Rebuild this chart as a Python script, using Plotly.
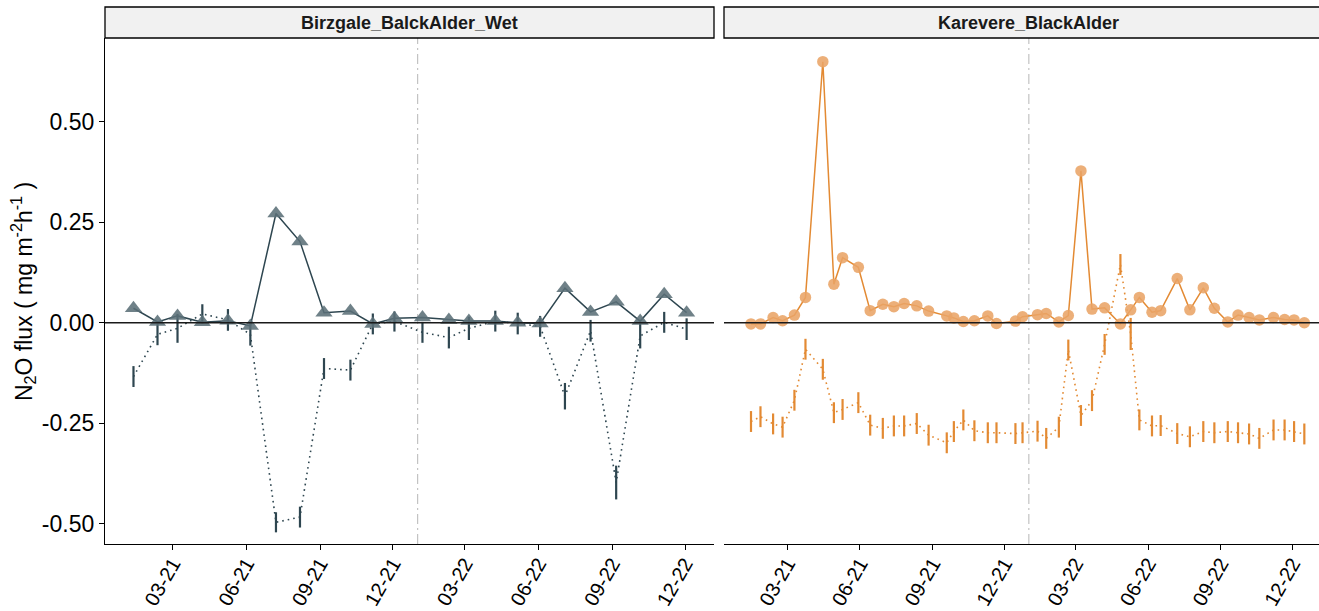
import plotly.graph_objects as go

W, H = 1319, 611

# ---- data -------------------------------------------------------------
site_names = ["Birzgale_BalckAlder_Wet", "Karevere_BlackAlder"]

birz_dates = ["2021-01-11", "2021-02-10", "2021-03-07", "2021-04-07", "2021-05-09", "2021-06-06",
              "2021-07-08", "2021-08-07", "2021-09-06", "2021-10-09", "2021-11-06", "2021-12-03",
              "2022-01-07", "2022-02-09", "2022-03-06", "2022-04-08", "2022-05-06", "2022-06-03",
              "2022-07-04", "2022-08-05", "2022-09-06", "2022-10-06", "2022-11-05", "2022-12-03"]
birz_flux = [0.036, 0.002, 0.017, 0.001, 0.005, -0.008, 0.272, 0.202, 0.025, 0.029, -0.003, 0.011,
             0.013, 0.007, 0.004, 0.004, 0.000, -0.002, 0.086, 0.027, 0.052, 0.004, 0.071, 0.025]
birz_low = [-0.134, -0.029, -0.014, 0.022, 0.007, -0.029, -0.497, -0.484, -0.114, -0.118, -0.003, 0.003,
            -0.024, -0.037, -0.014, 0.004, -0.002, -0.009, -0.183, -0.020, -0.398, -0.033, 0.001, -0.016]
birz_err = [0.026, 0.027, 0.036, 0.024, 0.027, 0.028, 0.025, 0.026, 0.026, 0.026, 0.026, 0.025,
            0.026, 0.027, 0.029, 0.026, 0.027, 0.026, 0.033, 0.027, 0.042, 0.031, 0.026, 0.027]

kare_dates = ["2021-01-14", "2021-01-26", "2021-02-11", "2021-02-23", "2021-03-10", "2021-03-24",
              "2021-04-15", "2021-04-29", "2021-05-10", "2021-05-30", "2021-06-14", "2021-06-30",
              "2021-07-14", "2021-07-27", "2021-08-12", "2021-08-27", "2021-09-19", "2021-09-28",
              "2021-10-10", "2021-10-24", "2021-11-10", "2021-11-21", "2021-12-15", "2021-12-24",
              "2022-01-12", "2022-01-23", "2022-02-08", "2022-02-20", "2022-03-08", "2022-03-22",
              "2022-04-07", "2022-04-27", "2022-05-10", "2022-05-21", "2022-06-06", "2022-06-17",
              "2022-07-08", "2022-07-24", "2022-08-10", "2022-08-24", "2022-09-10", "2022-09-23",
              "2022-10-07", "2022-10-20", "2022-11-07", "2022-11-21", "2022-12-03", "2022-12-16"]
kare_flux = [-0.003, -0.003, 0.013, 0.005, 0.019, 0.063, 0.650, 0.096, 0.162, 0.138, 0.030, 0.046,
             0.040, 0.048, 0.042, 0.029, 0.017, 0.012, 0.003, 0.005, 0.017, -0.002, 0.004, 0.015,
             0.020, 0.023, 0.002, 0.018, 0.378, 0.034, 0.037, -0.003, 0.032, 0.063, 0.026, 0.030,
             0.110, 0.032, 0.087, 0.036, 0.002, 0.019, 0.013, 0.007, 0.013, 0.008, 0.007, 0.000]
kare_low = [-0.246, -0.234, -0.252, -0.260, -0.193, -0.066, -0.116, -0.224, -0.216, -0.199, -0.255, -0.263,
            -0.257, -0.257, -0.251, -0.280, -0.299, -0.271, -0.242, -0.269, -0.274, -0.274, -0.276, -0.274,
            -0.270, -0.288, -0.260, -0.068, -0.231, -0.194, -0.054, 0.145, -0.028, -0.242, -0.257, -0.256,
            -0.276, -0.284, -0.271, -0.274, -0.271, -0.274, -0.277, -0.288, -0.267, -0.267, -0.271, -0.277]
kare_err = [0.026] * 31 + [0.026, 0.040] + [0.026] * 15

tick_dates = ["2021-03-01", "2021-06-01", "2021-09-01", "2021-12-01",
              "2022-03-01", "2022-06-01", "2022-09-01", "2022-12-01"]
tick_text = ["03-21", "06-21", "09-21", "12-21", "03-22", "06-22", "09-22", "12-22"]
y_ticks = [-0.5, -0.25, 0.0, 0.25, 0.5]
y_text = ["-0.50", "-0.25", "0.00", "0.25", "0.50"]
year_break = "2022-01-01"

# ---- styling ----------------------------------------------------------
slate_line = "#2e4650"
slate_mark = "#5b6f78"
orange_line = "#e38a33"
orange_mark = "#e9a466"
FONT = "Liberation Sans, Arial, sans-serif"

fig = go.Figure()

panels = [
    dict(xa="x", ya="y", dates=birz_dates, flux=birz_flux, low=birz_low, err=birz_err,
         line=slate_line, mark=slate_mark, symbol="triangle-up", msize=15),
    dict(xa="x2", ya="y2", dates=kare_dates, flux=kare_flux, low=kare_low, err=kare_err,
         line=orange_line, mark=orange_mark, symbol="circle", msize=11.5),
]

for p in panels:
    # lower series: dotted path with vertical ranges
    fig.add_trace(go.Scatter(
        x=p["dates"], y=p["low"], xaxis=p["xa"], yaxis=p["ya"], mode="lines",
        line=dict(color=p["line"], width=1.6, dash="1.6px,4px"),
        error_y=dict(type="data", array=p["err"], visible=True, width=0,
                     thickness=2.2, color=p["line"]),
        showlegend=False, hoverinfo="skip"))
    # flux series: solid line with markers
    fig.add_trace(go.Scatter(
        x=p["dates"], y=p["flux"], xaxis=p["xa"], yaxis=p["ya"], mode="lines+markers",
        line=dict(color=p["line"], width=1.5),
        marker=dict(symbol=p["symbol"], size=p["msize"], color=p["mark"], opacity=0.88,
                    line=dict(width=0)),
        showlegend=False))

x_dom1 = [105 / W, 714 / W]
x_dom2 = [724 / W, 1.0]
y_dom = [(H - 544) / H, (H - 38) / H]
y_range = [-0.551, 0.709]

xcommon = dict(type="date", tickmode="array", tickvals=tick_dates, ticktext=tick_text,
               tickangle=-60, ticks="outside", ticklen=5, tickwidth=1, tickcolor="black",
               showline=True, linecolor="black", linewidth=1.2, showgrid=False, zeroline=False,
               automargin=False, ticklabelstandoff=-6,
               tickfont=dict(family=FONT, size=20, color="black"))

fig.update_layout(
    width=W, height=H, margin=dict(l=0, r=0, t=0, b=0, autoexpand=False),
    paper_bgcolor="white", plot_bgcolor="white",
    xaxis=dict(domain=x_dom1, anchor="y", range=["2020-12-06 10:00", "2023-01-06 05:00"], **xcommon),
    xaxis2=dict(domain=x_dom2, anchor="y2", range=["2020-12-10 19:00", "2023-01-03 14:00"], **xcommon),
    yaxis=dict(domain=y_dom, anchor="x", range=y_range, tickmode="array", tickvals=y_ticks,
               ticktext=y_text, ticks="outside", ticklen=5, tickcolor="black",
               showline=True, linecolor="black", linewidth=1.2, showgrid=False, zeroline=False,
               automargin=False, tickfont=dict(family=FONT, size=23, color="black")),
    yaxis2=dict(domain=y_dom, anchor="x2", range=y_range, showticklabels=False, ticks="",
                showline=False, showgrid=False, zeroline=False, automargin=False),
)

shapes = []
for xa, ya in [("x", "y"), ("x2", "y2")]:
    # reference line at zero
    shapes.append(dict(type="line", xref=f"{xa} domain", yref=ya, x0=0, x1=1, y0=0, y1=0,
                       line=dict(color="#1a1a1a", width=1.6), layer="above"))
    # start of the second year
    shapes.append(dict(type="line", xref=xa, yref=f"{ya} domain", x0=year_break, x1=year_break,
                       y0=0, y1=1, line=dict(color="#bdbdbd", width=1.1, dash="10px,4px,2px,4px"),
                       layer="below"))

# facet strips
strip_y0 = (H - 38) / H
strip_y1 = (H - 7) / H
shapes.append(dict(type="rect", xref="paper", yref="paper", x0=105 / W, x1=714 / W,
                   y0=strip_y0, y1=strip_y1, fillcolor="#f1f1f1", line=dict(color="black", width=1.3)))
shapes.append(dict(type="rect", xref="paper", yref="paper", x0=724 / W, x1=1340 / W,
                   y0=strip_y0, y1=strip_y1, fillcolor="#f1f1f1", line=dict(color="black", width=1.3)))
fig.update_layout(shapes=shapes)

annotations = [
    dict(text=f"<b>{site_names[0]}</b>", xref="paper", yref="paper", x=409.5 / W, y=(H - 22.5) / H,
         showarrow=False, xanchor="center", yanchor="middle",
         font=dict(family=FONT, size=18, color="#1a1a1a")),
    dict(text=f"<b>{site_names[1]}</b>", xref="paper", yref="paper", x=1028.5 / W, y=(H - 22.5) / H,
         showarrow=False, xanchor="center", yanchor="middle",
         font=dict(family=FONT, size=18, color="#1a1a1a")),
    dict(text="N<sub>2</sub>O flux ( mg m<sup>-2</sup>h<sup>-1</sup> )", xref="paper", yref="paper",
         x=23 / W, y=(H - 292) / H, textangle=-90, showarrow=False,
         xanchor="center", yanchor="middle", font=dict(family=FONT, size=23, color="black")),
]
fig.update_layout(annotations=annotations)

fig.write_html("out.html")
